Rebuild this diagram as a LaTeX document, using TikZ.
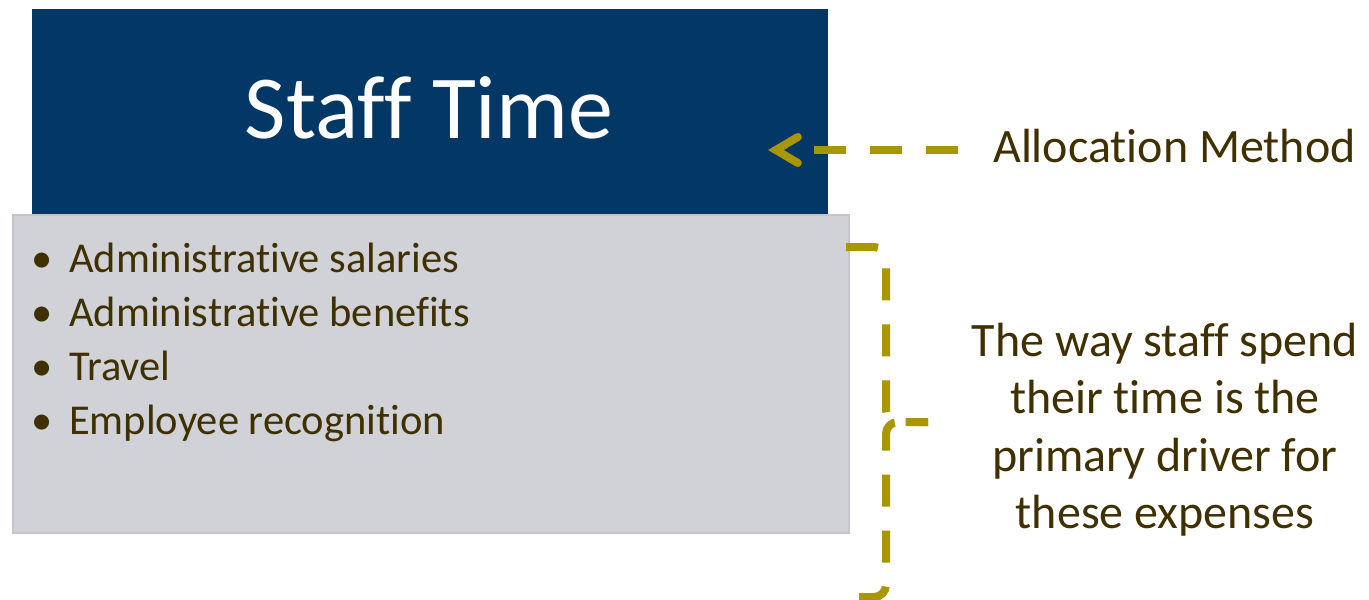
\documentclass[tikz,border=0pt]{standalone}
\usepackage{fontspec}
\setmainfont{Carlito}[Ligatures={NoCommon}]
\usetikzlibrary{arrows.meta}

\definecolor{navy}{RGB}{3,55,101}
\definecolor{panel}{RGB}{208,210,215}
\definecolor{paneledge}{RGB}{196,198,203}
\definecolor{olive}{RGB}{168,151,0}
\definecolor{ink}{RGB}{64,48,0}

\begin{document}
\begin{tikzpicture}[x=1pt,y=-1pt,
  titlebox/.style={fill=navy, draw=none, inner sep=0pt, anchor=north west},
  listbox/.style={fill=panel, draw=paneledge, line width=1.5pt, inner sep=0pt, anchor=north west},
  titletext/.style={text=white, inner sep=0pt, anchor=base, font=\fontsize{90}{90}\selectfont},
  itemtext/.style={text=ink, inner sep=0pt, anchor=base west, font=\fontsize{42.5}{42.5}\selectfont},
  bulletmark/.style={text=ink, inner sep=0pt, anchor=base, font=\fontsize{42.5}{42.5}\selectfont},
  notetext/.style={text=ink, inner sep=0pt, anchor=base, font=\fontsize{48}{48}\selectfont},
  labeltext/.style={text=ink, inner sep=0pt, anchor=base west, font=\fontsize{48}{48}\selectfont},
  olivedash/.style={draw=olive, line width=8pt, dash pattern=on 32pt off 24pt},
  pointer/.style={draw=olive, line width=8pt,
    dash pattern=on 32pt off 24pt on 32pt off 24pt on 32pt off 80pt,
    -{Straight Barb[length=22pt, width=26pt, line join=miter, line cap=round]}},
]
\useasboundingbox (0,0) rectangle (1369,600);
\fill[white] (0,0) rectangle (1369,600);

% cost pool panel and its heading
\node[listbox, minimum width=836pt, minimum height=318pt] (pool) at (12,214) {};
\node[titlebox, minimum width=796pt, minimum height=205pt] (head) at (32,9) {};
\node[titletext] (headtext) at (429,138) {Staff Time};

% expense items
\foreach \i/\txt [count=\n] in {0/Administrative salaries, 1/Administrative benefits, 2/Travel, 3/Employee recognition}{
  \node[bulletmark] (dot\n) at (42.5,{272+54.3*\i}) {•};
  \node[itemtext] (item\n) at (69,{272+54.3*\i}) {\txt};
}

% allocation method label and pointer
\node[labeltext] (alloc) at (993,162) {Allocation Method};
\coordinate (pointstart) at (958,150);
\coordinate (pointend) at (768,150);
\draw[pointer] (pointstart) -- (pointend);

% dashed brace grouping the items
\coordinate (bracetop) at (846,247);
\coordinate (bracetip) at (928,422);
\coordinate (bracebot) at (858,597);
\draw[olivedash, rounded corners=12pt] (bracetop) -- (886,247) -- (886,422) -- (bracetip);
\draw[olivedash, dash phase=22.7pt, rounded corners=12pt] (bracetip) -- (886,422) -- (886,597) -- (bracebot);

% explanatory note
\node[notetext] (note1) at (1165,356) {The way staff spend};
\node[notetext] (note2) at (1165,413.5) {their time is the};
\node[notetext] (note3) at (1165,471) {primary driver for};
\node[notetext] (note4) at (1165,528.5) {these expenses};
\end{tikzpicture}
\end{document}
